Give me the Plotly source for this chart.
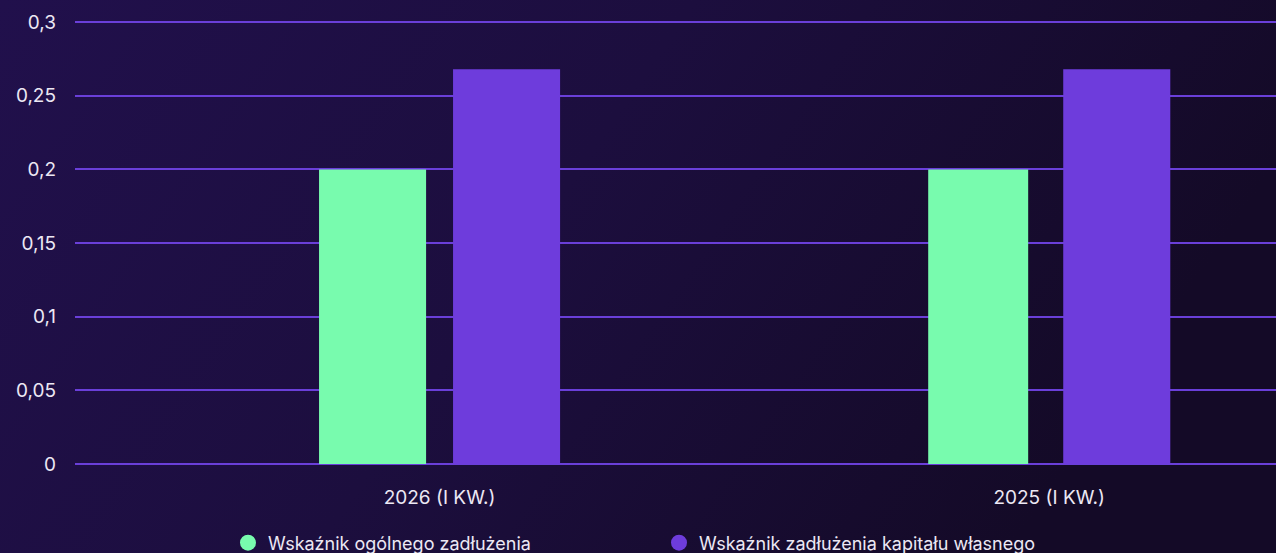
import base64
import plotly.graph_objects as go

categories = ["2026 (I KW.)", "2025 (I KW.)"]
series_names = ["Wskaźnik ogólnego zadłużenia", "Wskaźnik zadłużenia kapitału własnego"]
ogolne = [0.2, 0.2]
kapital = [0.268, 0.268]
y_ticks = [0, 0.05, 0.1, 0.15, 0.2, 0.25, 0.3]
y_labels = ["0", "0,05", "0,1", "0,15", "0,2", "0,25", "0,3"]

GREEN = "#78fbae"
PURPLE = "#6e3cdc"
GRID = "#6a3fd9"
TEXT = "#ece8f4"
FONT = "Inter"

W, H = 1276, 553
ML, MR, MT, MB = 75, 0, 21, 89
PW, PH = W - ML - MR, H - MT - MB

svg = f'''<svg xmlns="http://www.w3.org/2000/svg" width="{W}" height="{H}">
<defs><linearGradient id="g" x1="0" y1="0" x2="1" y2="0.3">
<stop offset="0" stop-color="#21104c"/><stop offset="0.5" stop-color="#1c0e3e"/>
<stop offset="1" stop-color="#140a27"/></linearGradient></defs>
<rect width="{W}" height="{H}" fill="url(#g)"/></svg>'''
src = "data:image/svg+xml;base64," + base64.b64encode(svg.encode()).decode()

fig = go.Figure()
fig.add_trace(go.Bar(x=categories, y=ogolne, name=series_names[0], marker_color=GREEN,
                     marker_line_width=0, width=[0.1756, 0.164], offset=[-0.1977, -0.1985],
                     showlegend=False))
fig.add_trace(go.Bar(x=categories, y=kapital, name=series_names[1], marker_color=PURPLE,
                     marker_line_width=0, width=0.1756, offset=[0.0221, 0.023],
                     showlegend=False))
for name, col in zip(series_names, [GREEN, PURPLE]):
    fig.add_trace(go.Scatter(x=[None], y=[None], mode="markers", name=name,
                             marker=dict(symbol="circle", size=20, color=col)))

fig.add_layout_image(dict(source=src, xref="paper", yref="paper",
                          x=-ML / PW, y=1 + MT / PH, sizex=W / PW, sizey=H / PH,
                          xanchor="left", yanchor="top", sizing="stretch", layer="below"))

fig.update_layout(
    width=W, height=H,
    margin=dict(l=ML, r=MR, t=MT, b=MB),
    paper_bgcolor="#1b0d3a", plot_bgcolor="rgba(0,0,0,0)",
    font=dict(family=FONT, color=TEXT, size=18),
    barmode="group",
    xaxis=dict(range=[-0.598, 1.372], showgrid=False, zeroline=False, showline=False,
               ticks="", tickfont=dict(size=19, color=TEXT), ticklabelstandoff=20),
    yaxis=dict(range=[0, 0.3008], tickvals=y_ticks, ticktext=y_labels, showgrid=True,
               gridcolor=GRID, gridwidth=2, zeroline=True, zerolinecolor=GRID,
               zerolinewidth=2, showline=False, ticks="", ticklabelstandoff=18,
               layer="below traces", tickfont=dict(size=19, color=TEXT)),
    legend=dict(orientation="h", xref="container", yref="container", x=228 / W, y=10 / H,
                xanchor="left", yanchor="middle", entrywidth=386, entrywidthmode="pixels",
                font=dict(size=18, color=TEXT), itemsizing="trace", bgcolor="rgba(0,0,0,0)"),
)

fig.write_html("out.html", config={"displayModeBar": False},
               post_script="document.body.style.margin='0';document.body.style.background='#1b0d3a';")
